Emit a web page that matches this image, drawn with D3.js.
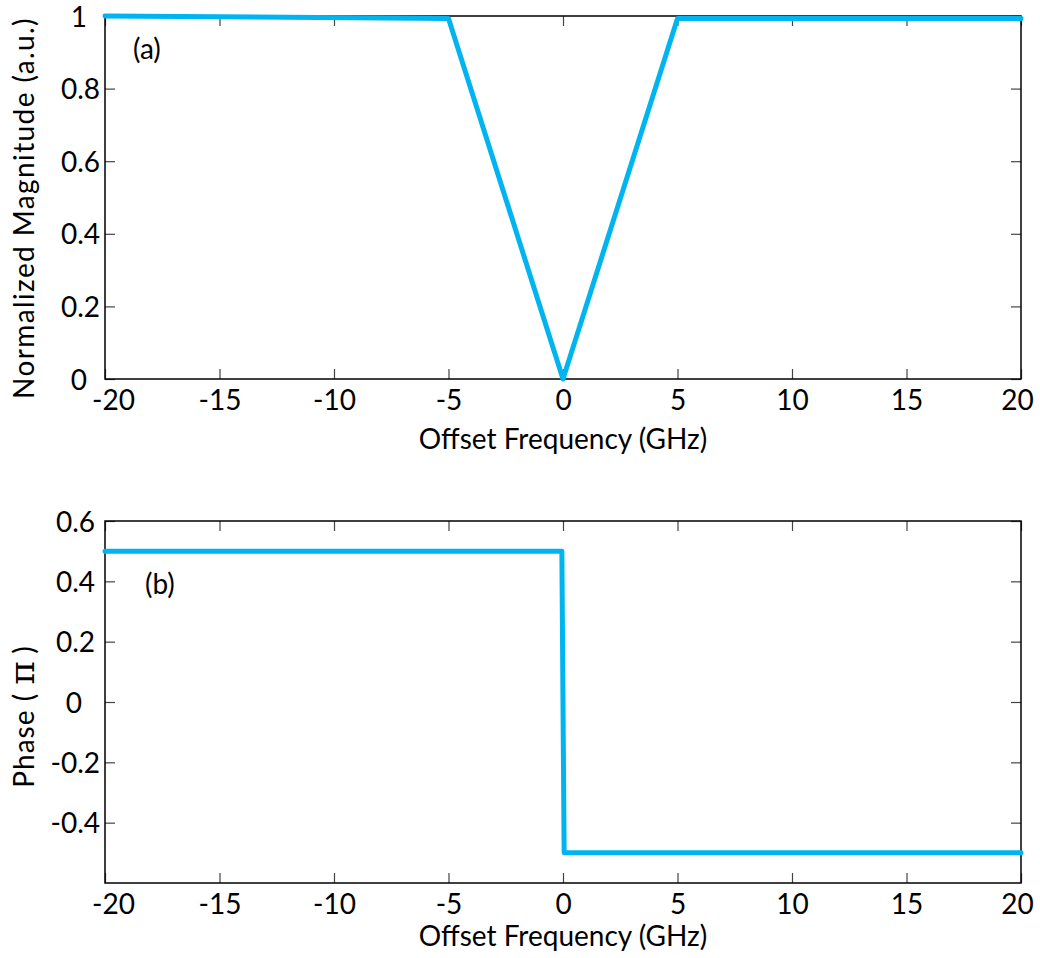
<!DOCTYPE html>
<html>
<head>
<meta charset="utf-8">
<script src="https://cdn.jsdelivr.net/npm/d3@7/dist/d3.min.js"></script>
<style>
  html, body { margin: 0; padding: 0; background: #fff; }
  svg { display: block; }
  text { font-family: Lato, "Open Sans", sans-serif; fill: #000; }
</style>
</head>
<body>
<svg id="chart" width="1040" height="958"></svg>
<script>
// Offset-frequency ticks shared by both panels (GHz)
const freqTicks = [-20, -15, -10, -5, 0, 5, 10, 15, 20];

// Panel (a): normalized magnitude response
const magFreq  = [-20, -5, 0, 5, 20];
const magValue = [1.0, 0.993, 0.0, 0.993, 0.993];
const magTicks = [0, 0.2, 0.4, 0.6, 0.8, 1];

// Panel (b): phase response in units of pi
const phaseFreq  = [-20, -0.05, 0.05, 20];
const phaseValue = [0.5, 0.5, -0.5, -0.5];
const phaseTicks = [-0.4, -0.2, 0, 0.2, 0.4, 0.6];

const lineColor = "#00b4f0";
const fontSize = "28px";
const svg = d3.select("#chart");

// plain hyphen for negatives, as in the original figure
const fmt = d => (d === 0 ? "0" : (d < 0 ? "-" : "") + d3.format("~g")(Math.abs(d)));

// nudge the end labels of the frequency axis inward
const xTickShift = d => (d === -20 ? 8 : d === 20 ? -4 : 0);

function panel(opts) {
  const { left, right, top, bottom, yDomain, yTicks, xs, ys, yLabelParts, yLabelY,
          tag, tagX, tagY, xLabelY, yTickShift } = opts;
  const x = d3.scaleLinear().domain([-20, 20]).range([left, right]);
  const y = d3.scaleLinear().domain(yDomain).range([bottom, top]);
  const g = svg.append("g");

  // bottom axis with inward ticks and labels
  const ax = g.append("g").attr("transform", `translate(0,${bottom})`)
    .call(d3.axisBottom(x).tickValues(freqTicks).tickSize(-10).tickPadding(10).tickFormat(fmt));
  // top axis: ticks only
  const axT = g.append("g").attr("transform", `translate(0,${top})`)
    .call(d3.axisTop(x).tickValues(freqTicks).tickSize(-10).tickFormat(""));
  // left axis with inward ticks and labels
  const ay = g.append("g").attr("transform", `translate(${left},0)`)
    .call(d3.axisLeft(y).tickValues(yTicks).tickSize(-10).tickPadding(5).tickFormat(fmt));
  // right axis: ticks only
  const ayR = g.append("g").attr("transform", `translate(${right},0)`)
    .call(d3.axisRight(y).tickValues(yTicks).tickSize(-10).tickFormat(""));

  [ax, axT, ay, ayR].forEach(a => {
    a.select(".domain").remove();
    a.selectAll(".tick line").attr("stroke", "#444").attr("stroke-width", 1.2);
    a.selectAll(".tick text")
      .style("font-family", "Lato, 'Open Sans', sans-serif")
      .style("font-size", fontSize)
      .attr("fill", "#000");
  });
  ax.selectAll(".tick text")
    .attr("dy", "0.75em")
    .attr("dx", d => xTickShift(d));
  ay.selectAll(".tick text")
    .attr("dy", "0.36em")
    .attr("dx", d => -yTickShift(d));

  // frame
  g.append("rect")
    .attr("x", left).attr("y", top)
    .attr("width", right - left).attr("height", bottom - top)
    .attr("fill", "none").attr("stroke", "#000").attr("stroke-width", 1.5);

  // data line
  const pts = xs.map((v, i) => [v, ys[i]]);
  g.append("path")
    .datum(pts)
    .attr("d", d3.line().x(d => x(d[0])).y(d => y(d[1])))
    .attr("fill", "none")
    .attr("stroke", lineColor)
    .attr("stroke-width", 5)
    .attr("stroke-linejoin", "round")
    .attr("stroke-linecap", "round");

  // axis titles
  g.append("text")
    .attr("x", (left + right) / 2).attr("y", xLabelY)
    .attr("text-anchor", "middle")
    .style("font-size", fontSize)
    .text("Offset Frequency (GHz)");

  const yl = g.append("text")
    .attr("transform", `translate(34,${yLabelY}) rotate(-90)`)
    .attr("text-anchor", "middle")
    .style("font-size", fontSize);
  yLabelParts.forEach(p => {
    yl.append("tspan")
      .style("font-size", p.size || fontSize)
      .style("font-family", p.family || null)
      .style("letter-spacing", p.spacing || null)
      .text(p.text);
  });

  // panel tag
  g.append("text")
    .attr("x", tagX).attr("y", tagY)
    .attr("text-anchor", "start")
    .attr("dy", "0.36em")
    .style("font-size", fontSize)
    .text(tag);
}

panel({
  left: 105, right: 1021, top: 16, bottom: 379,
  yDomain: [0, 1], yTicks: magTicks,
  xs: magFreq, ys: magValue,
  yLabelParts: [{ text: "Normalized Magnitude (a.u.)", spacing: "1.4px" }],
  yLabelY: 208,
  tag: "(a)", tagX: 133, tagY: 49,
  xLabelY: 449,
  yTickShift: d => (d === 0 || d === 1 ? 13 : 0)
});

panel({
  left: 105, right: 1021, top: 521, bottom: 883,
  yDomain: [-0.6, 0.6], yTicks: phaseTicks,
  xs: phaseFreq, ys: phaseValue,
  yLabelParts: [
    { text: "Phase ( ", spacing: "1px" },
    { text: "\u03c0", size: "36px", family: "'DejaVu Serif', serif" },
    { text: " )" }
  ],
  yLabelY: 717,
  tag: "(b)", tagX: 145, tagY: 584,
  xLabelY: 946,
  yTickShift: d => (d === 0 ? 18 : d > 0 ? 5 : 0)
});
</script>
</body>
</html>
